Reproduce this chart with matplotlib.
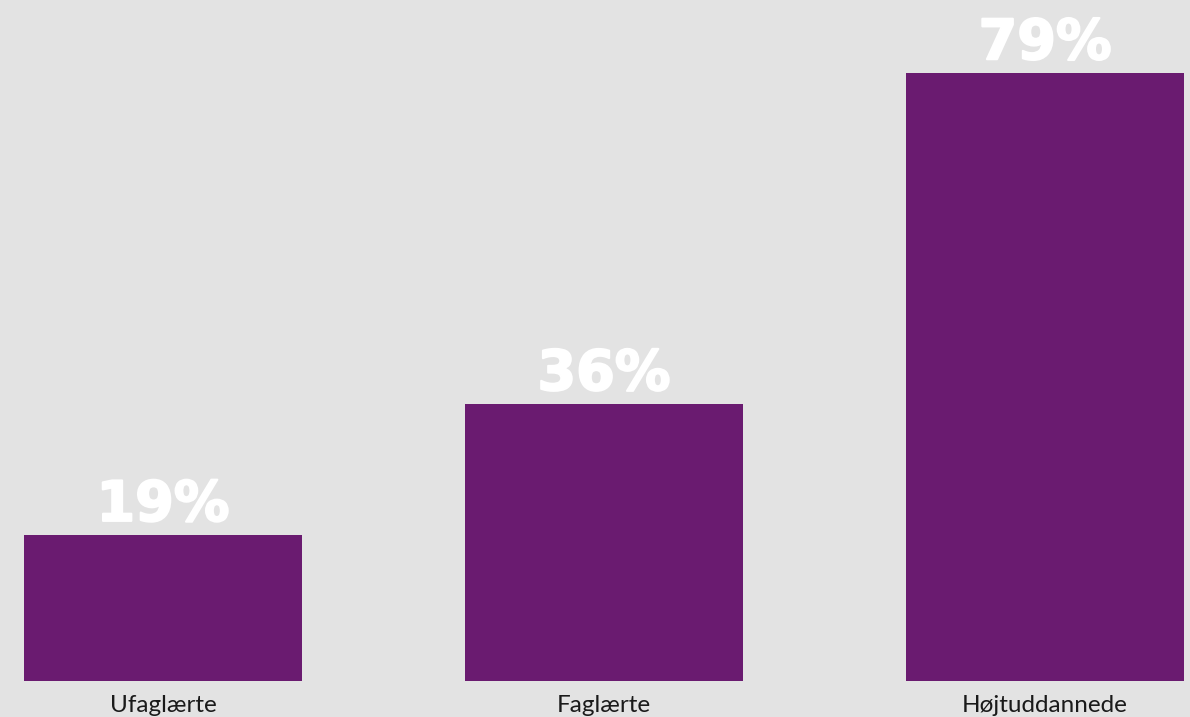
import matplotlib
matplotlib.use("Agg")
import matplotlib.pyplot as plt
import matplotlib.patheffects as pe

categories = ["Ufaglærte", "Faglærte", "Højtuddannede"]
values = [19, 36, 79]
value_labels = ["19%", "36%", "79%"]

BG = "#e3e3e3"
BAR = "#6a1b70"

W, H = 1190, 717
fig = plt.figure(figsize=(W / 100, H / 100), dpi=100, facecolor=BG)
ax = fig.add_axes([24 / W, (H - 681) / H, 1160 / W, 681 / H])
ax.set_facecolor(BG)

x = list(range(len(categories)))
ax.bar(x, values, width=0.63, color=BAR)
ax.set_xlim(-0.315, 2.315)
ax.set_ylim(0, 88.5)

for xi, v, lab in zip(x, values, value_labels):
    ax.annotate(lab, (xi, v), xytext=(0, 10), textcoords="offset points",
                ha="center", va="baseline", color="white",
                fontsize=40, fontweight="bold", family=["DejaVu Sans"],
                path_effects=[pe.withStroke(linewidth=1.5, foreground="white")])

ax.set_xticks(x)
ax.set_xticklabels(categories, fontsize=17.5, color="#1a1a1a",
                   family=["Lato", "DejaVu Sans"])
ax.tick_params(axis="x", length=0, pad=10)
ax.set_yticks([])
for s in ax.spines.values():
    s.set_visible(False)

fig.savefig("out.png", dpi=100, facecolor=BG)
